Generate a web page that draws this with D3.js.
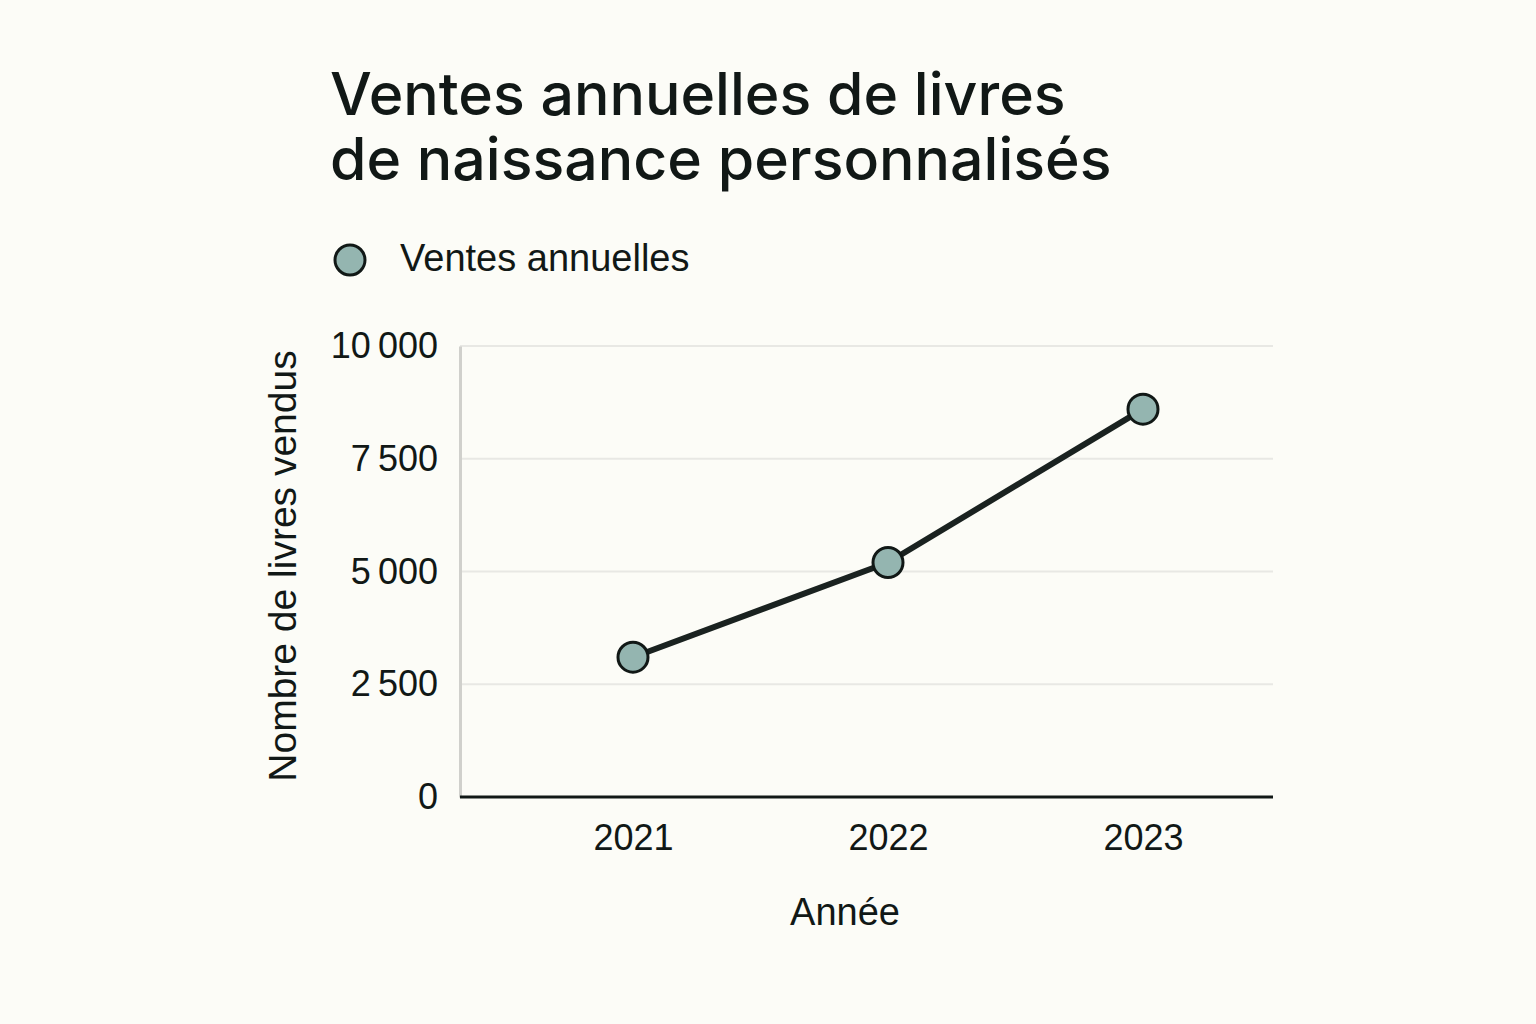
<!DOCTYPE html>
<html>
<head>
<meta charset="utf-8">
<script src="https://cdn.jsdelivr.net/npm/d3@7"></script>
<style>
  body { margin: 0; background: #fcfcf7; }
  svg { display: block; }
</style>
</head>
<body>
<svg id="chart" width="1536" height="1024"></svg>
<script>
// data
const years = ["2021", "2022", "2023"];
const sales = [3100, 5200, 8600];
const yTicks = [0, 2500, 5000, 7500, 10000];
const titleLines = ["Ventes annuelles de livres", "de naissance personnalisés"];
const seriesName = "Ventes annuelles";

const svg = d3.select("#chart");
const W = 1536, H = 1024;
const plotLeft = 460, plotRight = 1273, plotTop = 346, plotBottom = 797;
const labelFont = "'Liberation Sans', Arial, sans-serif";
const ink = "#111816";

svg.append("rect").attr("width", W).attr("height", H).attr("fill", "#fcfcf7");

const fr = d3.formatLocale({ decimal: ",", thousands: "\u202f", grouping: [3], currency: ["", " €"] });
const fmt = fr.format(",d");

const x = d3.scalePoint().domain(years).range([633, 1143]);
const y = d3.scaleLinear().domain([0, 10000]).range([plotBottom, plotTop]);

// title
svg.selectAll(".title").data(titleLines).enter().append("text")
    .attr("x", 330)
    .attr("y", function(d, i) { return 115 + i * 65; })
    .attr("font-family", "Inter, 'Noto Sans', sans-serif")
    .attr("font-size", 59)
    .attr("font-weight", 500)
    .attr("fill", ink)
    .text(function(d) { return d; });

// legend
svg.append("circle").attr("cx", 350).attr("cy", 260).attr("r", 15)
    .attr("fill", "#94b5b0").attr("stroke", ink).attr("stroke-width", 3);
svg.append("text").attr("x", 400).attr("y", 271)
    .attr("font-family", labelFont)
    .attr("font-size", 38).attr("fill", ink)
    .text(seriesName);

// gridlines
svg.append("g").selectAll("line")
    .data(yTicks.filter(function(d) { return d > 0; }))
    .enter().append("line")
    .attr("x1", plotLeft).attr("x2", plotRight)
    .attr("y1", function(d) { return y(d); })
    .attr("y2", function(d) { return y(d); })
    .attr("stroke", "#e8e8e4").attr("stroke-width", 2);

// y axis
const yAxis = svg.append("g")
    .attr("transform", "translate(" + plotLeft + ",0)")
    .call(d3.axisLeft(y).tickValues(yTicks).tickFormat(fmt).tickSize(0).tickPadding(22));
yAxis.select(".domain").attr("stroke", "#d0d0cc").attr("stroke-width", 3);
yAxis.selectAll("text")
    .attr("font-family", labelFont)
    .attr("font-size", 36).attr("fill", ink);

// x axis
const xAxis = svg.append("g")
    .attr("transform", "translate(0," + plotBottom + ")")
    .call(d3.axisBottom(x).tickSize(0).tickPadding(27));
xAxis.select(".domain").attr("d", "M" + plotLeft + ",0H" + plotRight)
    .attr("stroke", ink).attr("stroke-width", 3);
xAxis.selectAll("text")
    .attr("font-family", labelFont)
    .attr("font-size", 36).attr("fill", ink);

// axis titles
svg.append("text")
    .attr("transform", "translate(296,566) rotate(-90)")
    .attr("text-anchor", "middle")
    .attr("font-family", labelFont)
    .attr("font-size", 39).attr("fill", ink)
    .text("Nombre de livres vendus");
svg.append("text")
    .attr("x", 845).attr("y", 925)
    .attr("text-anchor", "middle")
    .attr("font-family", labelFont)
    .attr("font-size", 38).attr("fill", ink)
    .text("Année");

// line + points
const line = d3.line()
    .x(function(d, i) { return x(years[i]); })
    .y(function(d) { return y(d); });
svg.append("path").datum(sales)
    .attr("d", line)
    .attr("fill", "none")
    .attr("stroke", "#1a2220")
    .attr("stroke-width", 6)
    .attr("stroke-linejoin", "round");

svg.selectAll(".pt").data(sales).enter().append("circle")
    .attr("cx", function(d, i) { return x(years[i]); })
    .attr("cy", function(d) { return y(d); })
    .attr("r", 15)
    .attr("fill", "#94b5b0")
    .attr("stroke", ink)
    .attr("stroke-width", 3);
</script>
</body>
</html>
